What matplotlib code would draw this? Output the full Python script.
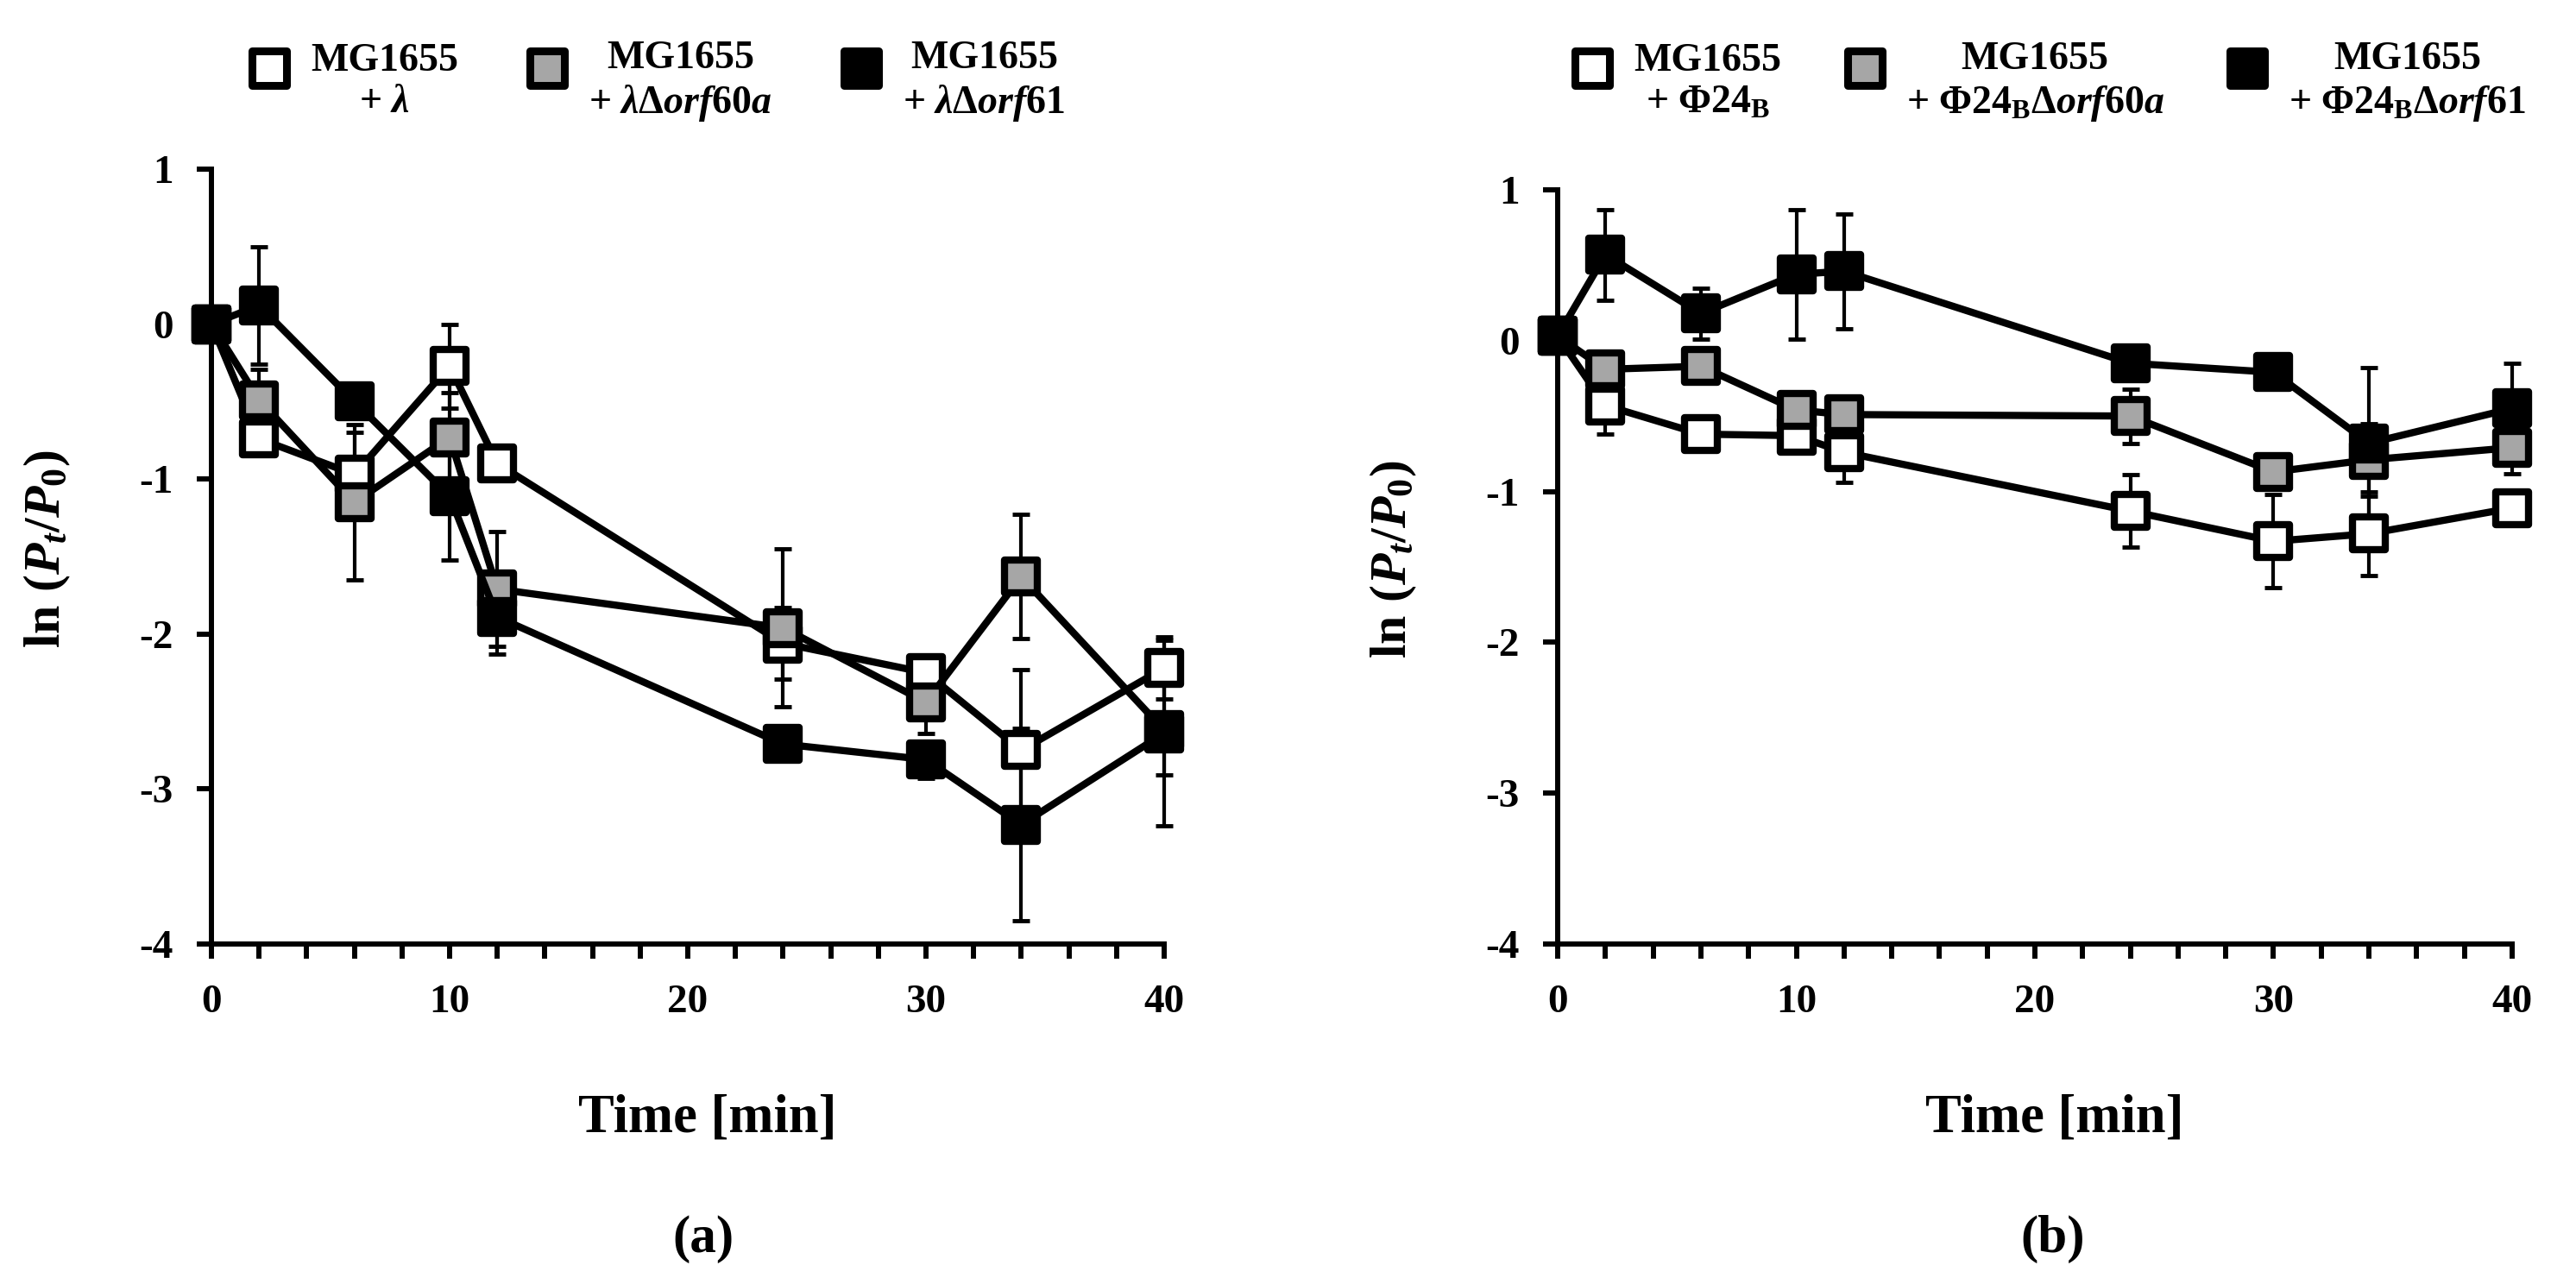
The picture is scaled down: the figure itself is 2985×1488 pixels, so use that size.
import matplotlib
matplotlib.use('Agg')
import numpy as np
import matplotlib.pyplot as plt
from matplotlib.lines import Line2D
from matplotlib.markers import MarkerStyle
from matplotlib.ticker import MultipleLocator

plt.rcParams['font.family'] = ['Liberation Serif', 'DejaVu Serif']
plt.rcParams['font.weight'] = 'bold'
plt.rcParams['axes.unicode_minus'] = False
plt.rcParams['mathtext.fontset'] = 'custom'
plt.rcParams['mathtext.rm'] = 'Liberation Serif:bold'
plt.rcParams['mathtext.it'] = 'Liberation Serif:italic:bold'
plt.rcParams['mathtext.bf'] = 'Liberation Serif:bold'

# time points (min)
time = [0, 2, 6, 10, 12, 24, 30, 34, 40]

# panel (a): lambda phage
a_wt = [0.0, -0.74, -0.97, -0.27, -0.90, -2.06, -2.25, -2.75, -2.22]
a_wt_err = [0.0, 0.05, 0.27, 0.27, 0.08, 0.23, 0.06, 0.52, 0.20]
a_60a = [0.0, -0.49, -1.15, -0.73, -1.71, -1.96, -2.44, -1.63, -2.62]
a_60a_err = [0.0, 0.20, 0.50, 0.29, 0.37, 0.51, 0.20, 0.40, 0.29]
a_61 = [0.0, 0.12, -0.50, -1.11, -1.89, -2.71, -2.81, -3.23, -2.64]
a_61_err = [0.0, 0.38, 0.05, 0.41, 0.24, 0.05, 0.12, 0.62, 0.60]

# panel (b): Phi24B phage
b_wt = [0.03, -0.43, -0.62, -0.63, -0.74, -1.13, -1.33, -1.28, -1.11]
b_wt_err = [0.0, 0.19, 0.05, 0.10, 0.20, 0.24, 0.31, 0.28, 0.05]
b_60a = [0.03, -0.19, -0.17, -0.46, -0.49, -0.50, -0.87, -0.79, -0.71]
b_60a_err = [0.0, 0.06, 0.05, 0.06, 0.06, 0.18, 0.06, 0.24, 0.17]
b_61 = [0.03, 0.57, 0.18, 0.44, 0.46, -0.15, -0.21, -0.68, -0.45]
b_61_err = [0.0, 0.30, 0.17, 0.43, 0.38, 0.04, 0.04, 0.50, 0.30]

labels_a = ['MG1655\n+ $\\lambda$',
            'MG1655\n+ $\\lambda\\Delta\\mathit{orf60a}$',
            'MG1655\n+ $\\lambda\\Delta\\mathit{orf61}$']
labels_b = ['MG1655\n+ $\\Phi24_{\\mathrm{B}}$',
            'MG1655\n+ $\\Phi24_{\\mathrm{B}}\\Delta\\mathit{orf60a}$',
            'MG1655\n+ $\\Phi24_{\\mathrm{B}}\\Delta\\mathit{orf61}$']

fills = ['white', '#A6A6A6', 'black']
MS = 27
MEW = 6
SQUARE = MarkerStyle('s', joinstyle='round')


def draw_panel(ax, series, errs, labels, leg_anchor, colspace):
    for y, e in zip(series, errs):
        ax.errorbar(time, y, yerr=e, fmt='none', ecolor='black',
                    elinewidth=3, capsize=7, capthick=3.5, zorder=2,
                    clip_on=False)
    for k, (y, fc) in enumerate(zip(series, fills)):
        ax.plot(time, y, '-', color='black', lw=6, marker=SQUARE, ms=MS,
                mfc=fc, mec='black', mew=MEW, zorder=3 + k, clip_on=False,
                solid_joinstyle='round')
    ax.set_xlim(0, 40)
    ax.set_ylim(-4, 1)
    ax.xaxis.set_major_locator(MultipleLocator(10))
    ax.xaxis.set_minor_locator(MultipleLocator(2))
    ax.yaxis.set_major_locator(MultipleLocator(1))
    for s in ['top', 'right']:
        ax.spines[s].set_visible(False)
    for s in ['left', 'bottom']:
        ax.spines[s].set_linewidth(4.3)
    ax.tick_params(axis='both', which='both', direction='out', length=12,
                   width=4.3, labelsize=34)
    ax.tick_params(axis='x', which='both', pad=22)
    ax.tick_params(axis='y', pad=20)
    for t in ax.get_xticklabels() + ax.get_yticklabels():
        t.set_fontweight('bold')

    handles = [Line2D([0], [0], ls='none', marker=SQUARE, ms=29, mfc=fc,
                      mec='black', mew=6.5) for fc in fills]
    leg = ax.legend(handles, labels, ncol=3, loc='center left',
                    bbox_to_anchor=leg_anchor, bbox_transform=fig.transFigure,
                    frameon=False, handlelength=1.1, handletextpad=0.5,
                    columnspacing=colspace, borderpad=0, borderaxespad=0,
                    prop={'family': 'Liberation Serif', 'weight': 'bold',
                          'size': 33})
    for t in leg.get_texts():
        t.set_multialignment('center')
    # markers sit level with the first text line
    for h in leg.legend_handles:
        h.set_ydata(np.asarray(h.get_ydata()) + 12)


fig = plt.figure(figsize=(29.85, 14.88), dpi=100)
ax_a = fig.add_axes([0.0821, 0.2648, 0.3698, 0.6035])
ax_b = fig.add_axes([0.6047, 0.2648, 0.3705, 0.5874])

draw_panel(ax_a, [a_wt, a_60a, a_61], [a_wt_err, a_60a_err, a_61_err],
           labels_a, (0.0961, 0.936), 1.7)
draw_panel(ax_b, [b_wt, b_60a, b_61], [b_wt_err, b_60a_err, b_61_err],
           labels_b, (0.6097, 0.936), 1.55)

ylab = '$\\mathrm{ln\\ (}P_{t}/P_{\\mathit{0}}\\mathrm{)}$'
fig.text(0.0184, 0.5726, ylab, rotation=90, ha='center', va='center',
         fontsize=43)
fig.text(0.541, 0.5645, ylab, rotation=90, ha='center', va='center',
         fontsize=43)

fig.text(0.2747, 0.1183, 'Time [min]', ha='center', va='baseline',
         fontsize=45, fontweight='bold')
fig.text(0.7977, 0.1183, 'Time [min]', ha='center', va='baseline',
         fontsize=45, fontweight='bold')
fig.text(0.273, 0.0349, '(a)', ha='center', va='center', fontsize=44,
         fontweight='bold')
fig.text(0.797, 0.0349, '(b)', ha='center', va='center', fontsize=44,
         fontweight='bold')

fig.savefig('out.png', dpi=100, facecolor='white')
